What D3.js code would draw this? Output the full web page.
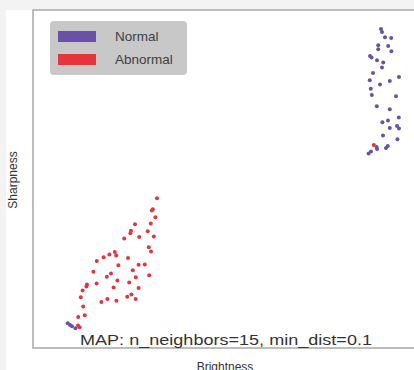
<!DOCTYPE html>
<html>
<head>
<meta charset="utf-8">
<script src="https://cdn.jsdelivr.net/npm/d3@7"></script>
<style>
  body { margin: 0; background: #f3f3f3; }
  svg { display: block; }
</style>
</head>
<body>
<svg id="chart" width="414" height="370"></svg>
<script>
// embedding coords, arbitrary units (no ticks shown in the original)
const normalX = [17.40, 17.45, 17.60, 17.91, 17.26, 17.76, 17.26, 17.92, 16.85, 16.93,
  17.20, 17.51, 17.45, 17.00, 18.30, 17.84, 16.84, 17.35, 16.89, 16.94,
  18.15, 17.19, 17.84, 17.47, 17.75, 18.29, 17.84, 18.20, 18.30, 17.50,
  18.22, 17.18, 17.20, 17.74, 17.65, 16.90, 16.78, 1.74, 1.85, 1.95, 2.12]
const normalY = [15.95, 15.80, 15.54, 15.50, 15.14, 15.10, 14.94, 14.84, 14.60, 14.53,
  14.39, 14.28, 14.02, 13.75, 13.55, 13.35, 13.39, 13.18, 12.96, 12.65,
  12.59, 12.09, 11.94, 11.29, 11.37, 11.52, 11.00, 11.10, 10.97, 10.62,
  10.44, 10.05, 9.95, 10.10, 10.00, 9.83, 9.73, 1.24, 1.15, 1.09, 0.99]

const abnormalX = [6.20, 5.99, 5.94, 6.12, 5.10, 5.89, 4.90, 4.87, 5.74, 4.56,
  5.31, 6.04, 5.79, 5.90, 4.09, 4.16, 3.82, 3.53, 3.19, 4.75,
  4.27, 5.28, 5.59, 4.99, 3.02, 3.90, 3.69, 5.14, 5.81, 4.22,
  3.18, 4.81, 2.70, 2.67, 2.48, 4.03, 5.28, 2.39, 3.42, 3.72,
  4.17, 4.71, 4.92, 5.13, 2.51, 2.26, 2.59, 2.25, 2.33, 17.04]
const abnormalY = [7.49, 6.94, 6.87, 6.54, 6.19, 6.22, 5.86, 5.74, 5.84, 5.48,
  5.55, 5.57, 5.04, 4.82, 4.80, 4.62, 4.68, 4.54, 4.35, 4.50,
  4.14, 4.16, 4.17, 3.89, 3.81, 3.73, 3.56, 3.54, 3.64, 3.38,
  3.22, 3.28, 3.18, 3.07, 2.87, 3.02, 3.00, 2.54, 2.30, 2.45,
  2.36, 2.56, 2.67, 2.45, 2.07, 1.55, 1.64, 1.12, 1.04, 10.15]

const classes = ["Normal", "Abnormal"]
const colors = ["#6a51a8", "#e5343c"]
const title = "MAP: n_neighbors=15, min_dist=0.1"

const svg = d3.select("#chart")

// white figure panel
svg.append("rect").attr("x", 6).attr("y", 10).attr("width", 408).attr("height", 360).attr("fill", "#fff")

const plotLeft = 33, plotTop = 10, plotBottom = 348
const x = d3.scaleLinear().domain([0, 20]).range([plotLeft, plotLeft + 400])
const y = d3.scaleLinear().domain([0, 16.9]).range([plotBottom, plotTop])

// axes frame (right side runs off the picture)
svg.append("path")
  .attr("d", `M${x(20)},${plotTop}H${plotLeft}V${plotBottom}H${x(20)}`)
  .attr("fill", "none").attr("stroke", "#a8a8a8").attr("stroke-width", 1.5)

const dots = (xs, ys, color) => svg.append("g")
  .selectAll("circle")
  .data(xs.map((v, i) => [v, ys[i]]))
  .enter()
  .append("circle")
  .attr("cx", d => x(d[0]))
  .attr("cy", d => y(d[1]))
  .attr("r", 2)
  .attr("fill", color)

dots(normalX, normalY, colors[0])
dots(abnormalX, abnormalY, colors[1])

// legend
const lg = svg.append("g").attr("transform", "translate(50,21)")
lg.append("rect").attr("width", 137).attr("height", 54).attr("rx", 4).attr("fill", "#c8c8c8")
classes.forEach((c, i) => {
  lg.append("rect").attr("x", 8).attr("y", 10 + i * 23).attr("width", 38).attr("height", 11)
    .attr("fill", colors[i])
  lg.append("text").attr("x", 65).attr("y", 15.5 + i * 23).attr("dy", "0.35em")
    .attr("font-family", "Liberation Sans, Arial, sans-serif").attr("font-size", 13.5)
    .attr("fill", "#404040").text(c)
})

// annotation
svg.append("text").attr("x", 80).attr("y", 344.5)
  .attr("font-family", "Liberation Sans, Arial, sans-serif").attr("font-size", 15.5)
  .attr("fill", "#333").attr("textLength", 292).attr("lengthAdjust", "spacingAndGlyphs")
  .text(title)

// axis labels
svg.append("text").attr("x", 225).attr("y", 371).attr("text-anchor", "middle")
  .attr("font-family", "Liberation Sans, Arial, sans-serif").attr("font-size", 12)
  .attr("fill", "#333").text("Brightness")
svg.append("text").attr("transform", "translate(17,180) rotate(-90)").attr("text-anchor", "middle")
  .attr("font-family", "Liberation Sans, Arial, sans-serif").attr("font-size", 12)
  .attr("fill", "#333").text("Sharpness")
</script>
</body>
</html>
